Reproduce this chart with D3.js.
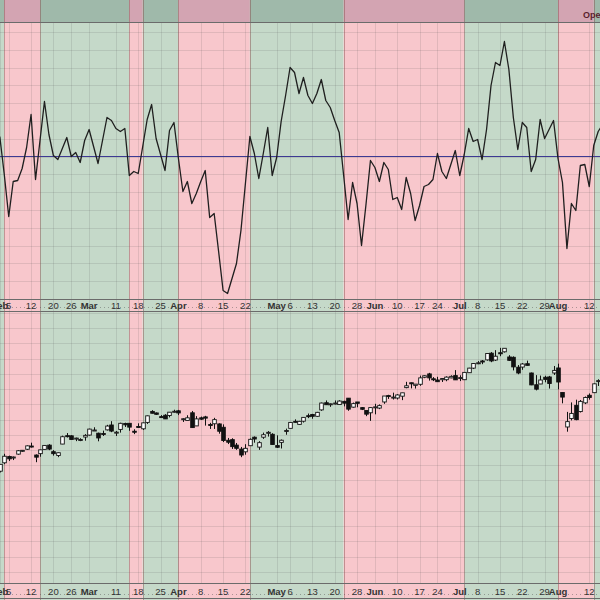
<!DOCTYPE html>
<html><head><meta charset="utf-8">
<script src="https://cdn.jsdelivr.net/npm/d3@7"></script>
<style>html,body{margin:0;padding:0;background:#fff;}svg{display:block;}</style>
</head><body><div id="chart"></div>
<script>
// ---- DATA ----
const tradingDays = ["02-01","02-02","02-05","02-06","02-07","02-08","02-09","02-12","02-13","02-14","02-15","02-16","02-20","02-21","02-22","02-23","02-26","02-27","02-28","02-29",
"03-01","03-04","03-05","03-06","03-07","03-08","03-11","03-12","03-13","03-14","03-15","03-18","03-19","03-20","03-21","03-22","03-25","03-26","03-27","03-28",
"04-01","04-02","04-03","04-04","04-05","04-08","04-09","04-10","04-11","04-12","04-15","04-16","04-17","04-18","04-19","04-22","04-23","04-24","04-25","04-26","04-29","04-30",
"05-01","05-02","05-03","05-06","05-07","05-08","05-09","05-10","05-13","05-14","05-15","05-16","05-17","05-20","05-21","05-22","05-23","05-24","05-28","05-29","05-30","05-31",
"06-03","06-04","06-05","06-06","06-07","06-10","06-11","06-12","06-13","06-14","06-17","06-18","06-20","06-21","06-24","06-25","06-26","06-27","06-28",
"07-01","07-02","07-03","07-05","07-08","07-09","07-10","07-11","07-12","07-15","07-16","07-17","07-18","07-19","07-22","07-23","07-24","07-25","07-26","07-29","07-30","07-31",
"08-01","08-02","08-05","08-06","08-07","08-08","08-09","08-12","08-13","08-14","08-15"];

const openP = [4861,4916,4957,4950,4973,4996,5005,5026,4967,4976,5004,5032,4989,4964,5039,5094,5093,5074,5067,5085,
5098,5131,5110,5108,5132,5164,5112,5135,5174,5175,5123,5154,5139,5181,5253,5243,5219,5228,5226,5248,
5257,5204,5194,5244,5158,5211,5217,5167,5172,5171,5149,5064,5068,5032,5006,4988,5028,5084,5019,5084,5114,5103,
5029,5050,5122,5142,5188,5168,5189,5225,5233,5221,5263,5310,5303,5305,5298,5319,5340,5281,5315,5278,5259,5244,
5283,5275,5315,5357,5344,5341,5353,5409,5441,5424,5431,5477,5499,5467,5459,5461,5461,5473,5488,
5471,5461,5507,5537,5572,5584,5591,5635,5590,5638,5644,5610,5608,5543,5544,5566,5505,5428,5433,5477,5479,5505,
5538,5377,5151,5206,5293,5252,5309,5359,5376,5450,5501];
const highP = [4906,4975,4963,4957,5000,5000,5030,5048,4971,5002,5032,5038,4999,4983,5094,5111,5097,5081,5077,5104,
5140,5149,5114,5127,5165,5189,5125,5179,5179,5176,5136,5175,5180,5226,5261,5246,5229,5235,5249,5264,
5263,5209,5228,5256,5222,5219,5224,5178,5211,5175,5168,5079,5077,5046,5020,5038,5076,5089,5058,5114,5124,5110,
5096,5069,5140,5181,5201,5191,5215,5239,5237,5250,5311,5325,5305,5325,5326,5323,5341,5311,5315,5282,5260,5280,
5303,5299,5354,5362,5376,5366,5375,5447,5442,5432,5488,5490,5506,5478,5480,5472,5483,5490,5524,
5490,5510,5539,5570,5583,5590,5635,5642,5655,5670,5667,5622,5614,5557,5570,5586,5508,5491,5488,5487,5486,5551,
5566,5377,5250,5312,5330,5328,5351,5371,5436,5464,5546];
const lowP = [4853,4907,4928,4934,4969,4987,5000,5016,4920,4956,5003,4999,4963,4953,5038,5082,5068,5058,5058,5061,
5094,5127,5057,5092,5128,5117,5092,5114,5151,5126,5104,5145,5131,5171,5240,5230,5216,5203,5214,5246,
5229,5184,5194,5146,5157,5197,5160,5138,5138,5107,5052,5039,5007,5001,4953,4969,5027,5048,5001,5073,5088,5035,
5013,5010,5100,5142,5180,5165,5180,5209,5205,5218,5257,5296,5283,5299,5297,5286,5257,5278,5280,5262,5222,5191,
5234,5268,5303,5335,5331,5331,5327,5405,5404,5403,5421,5471,5455,5452,5447,5446,5451,5471,5460,
5452,5459,5507,5531,5563,5563,5586,5576,5584,5615,5639,5584,5522,5497,5526,5553,5425,5391,5432,5444,5403,5492,
5398,5306,5120,5194,5195,5246,5301,5330,5376,5420,5501];
const closeP = [4906,4959,4942,4954,4995,4998,5027,5021,4953,5001,5030,5006,4976,4982,5087,5089,5069,5078,5069,5096,
5137,5131,5079,5105,5157,5124,5117,5175,5165,5150,5117,5149,5178,5224,5241,5234,5218,5204,5248,5254,
5243,5205,5211,5147,5204,5202,5209,5161,5199,5123,5062,5051,5022,5011,4967,5011,5070,5072,5048,5100,5116,5036,
5018,5064,5128,5181,5187,5188,5214,5223,5221,5247,5308,5297,5303,5308,5321,5307,5268,5304,5306,5267,5235,5278,
5283,5291,5354,5353,5347,5361,5375,5421,5434,5432,5473,5487,5473,5465,5448,5469,5478,5483,5460,
5475,5509,5537,5567,5572,5577,5633,5584,5615,5631,5667,5588,5545,5505,5564,5555,5427,5399,5459,5463,5436,5522,
5446,5347,5186,5240,5199,5319,5344,5344,5434,5455,5543];

// oscillator (zero line = 0)
const oscValues = [20,-18,-60,-25,-24,-12,9,42,-23,16,55,22,1,-3,8,19,0,4,-6,16,
27,10,-7,16,39,36,28,25,28,-19,-15,-17,10,37,52,18,2,-14,26,34,
-2,-35,-25,-47,-37,-25,-14,-61,-57,-95,-134,-137,-122,-107,-74,-27,20,3,-22,3,29,-19,
-1,35,61,89,84,63,79,61,53,63,77,56,49,36,24,-19,-63,-26,-47,-89,-48,-4,
-11,-25,-6,-13,-43,-41,-53,-21,-37,-64,-49,-30,-28,-23,3,-15,-22,-8,6,
-19,2,28,15,17,-3,27,71,94,91,115,87,39,7,34,29,-15,-3,37,18,27,36,
-2,-26,-92,-47,-54,-9,-8,-30,11,25,32];

const regimeStart = ["02-01","02-02","02-14","03-14","03-19","04-01","04-23","05-22","07-02","08-01","08-13"];
const regimeType  = ["up","down","up","down","up","down","up","down","up","down","up"];

const tickDates  = ["02-01","02-05","02-12","02-20","02-26","03-01","03-11","03-18","03-25","04-01","04-08","04-15","04-22","05-01","05-06","05-13","05-20","05-28","06-03","06-10","06-17","06-24","07-01","07-08","07-15","07-22","07-29","08-01","08-12"];
const tickLabels = ["Feb","5","12","20","26","Mar","11","18","25","Apr","8","15","22","May","6","13","20","28","Jun","10","17","24","Jul","8","15","22","29","Aug","12"];

// ---- DRAW ----
const W = 600, H = 600;
const svg = d3.select("#chart").append("svg").attr("width", W).attr("height", H)
  .style("font-family","'Liberation Sans', Arial, sans-serif");

const idx = d => tradingDays.indexOf(d);
const x = d3.scaleLinear().domain([2, 132]).range([8.74, 589.26]);

const hdrP = [0, 22], topP = [22, 299], ax1P = [299, 311], botP = [311, 583], ax2P = [583, 598];

const yOsc = d3.scaleLinear().domain([0, 100]).range([156.5, 56.5]);
const yP = d3.scaleLinear().domain([5667, 5120]).range([348.3, 431.7]);

const colors = {
  up:   {main:"#c5d9c9", head:"#9fb9aa"},
  down: {main:"#f8c7cc", head:"#d3a4b2"}
};

// bands
const bands = regimeStart.map((s,i)=>({
  x0: i===0 ? 0 : x(idx(s)),
  x1: i===regimeStart.length-1 ? W : x(idx(regimeStart[i+1])),
  t: regimeType[i]
}));
const gB = svg.append("g");
gB.selectAll("rect.m").data(bands).join("rect").attr("class","m")
  .attr("x",d=>d.x0).attr("width",d=>d.x1-d.x0).attr("y",0).attr("height",H)
  .attr("fill",d=>colors[d.t].main);
gB.selectAll("rect.h").data(bands).join("rect").attr("class","h")
  .attr("x",d=>d.x0).attr("width",d=>d.x1-d.x0).attr("y",hdrP[0]).attr("height",hdrP[1]-hdrP[0])
  .attr("fill",d=>colors[d.t].head);

// grid: horizontal
const gG = svg.append("g").attr("stroke","rgba(90,90,90,0.15)").attr("stroke-width",1);
const oscStep = 17.8;
d3.range(-8, 9).map(k=>k*oscStep).forEach(v=>{
  const yy = Math.round(yOsc(v))+0.5;
  if (yy>topP[0]+2 && yy<topP[1]-1) gG.append("line").attr("x1",0).attr("x2",W).attr("y1",yy).attr("y2",yy);
});
d3.range(4200, 6000, 100).forEach(p=>{
  const yy = Math.round(yP(p))+0.5;
  if (yy>botP[0]+2 && yy<botP[1]-1) gG.append("line").attr("x1",0).attr("x2",W).attr("y1",yy).attr("y2",yy);
});
// grid: vertical at ticks
tickDates.forEach(d=>{
  const xx = Math.round(x(idx(d)))+0.5;
  gG.append("line").attr("x1",xx).attr("x2",xx).attr("y1",topP[0]).attr("y2",botP[1]);
});

// band boundary lines
svg.append("g").selectAll("line").data(bands.slice(1)).join("line")
  .attr("x1",d=>Math.round(d.x0)+0.5).attr("x2",d=>Math.round(d.x0)+0.5)
  .attr("y1",0).attr("y2",H).attr("stroke","rgba(130,70,70,0.45)").attr("stroke-width",1);

// separators
const sep = svg.append("g").attr("stroke","#6b6b6b").attr("stroke-width",1);
[hdrP[1], ax1P[0], ax1P[1], ax2P[0], ax2P[1]].forEach(v=>{
  sep.append("line").attr("x1",0).attr("x2",W).attr("y1",v+0.5).attr("y2",v+0.5);
});
// dotted tick rows in axis strips
[307.5, 594.5].forEach(v=>{
  svg.append("line").attr("x1",0).attr("x2",W).attr("y1",v).attr("y2",v)
    .attr("stroke","rgba(80,80,80,0.45)").attr("stroke-dasharray","1,3");
});

// axis labels
function axisLabels(yBase){
  const g = svg.append("g");
  g.selectAll("text").data(tickDates).join("text")
    .attr("x",d=>x(idx(d))).attr("y",yBase).attr("text-anchor","middle")
    .attr("font-size",9.5).attr("fill","#333")
    .attr("font-weight",(d,i)=>isNaN(+tickLabels[i])?"bold":"normal")
    .text((d,i)=>tickLabels[i]);
}
axisLabels(308.5);
axisLabels(595);

// header legend text
svg.append("text").attr("x",583).attr("y",18).attr("font-size",9).attr("font-weight","bold")
  .attr("fill","#5a1f2e").text("Open");

// zero line
svg.append("line").attr("x1",0).attr("x2",W).attr("y1",yOsc(0)).attr("y2",yOsc(0))
  .attr("stroke","#3d3a93").attr("stroke-width",1);

// oscillator line
const line = d3.line().x((d,i)=>x(i)).y(d=>yOsc(d));
svg.append("path").datum(oscValues).attr("d",line)
  .attr("fill","none").attr("stroke","#1f1f1f").attr("stroke-width",1.3).attr("stroke-linejoin","round");

// candles
const candles = tradingDays.map((d,i)=>({i,o:openP[i],h:highP[i],l:lowP[i],c:closeP[i]}));
const gC = svg.append("g");
const bw = 3.6;
gC.selectAll("line").data(candles).join("line")
  .attr("x1",d=>Math.round(x(d.i))+0.5).attr("x2",d=>Math.round(x(d.i))+0.5)
  .attr("y1",d=>yP(d.h)).attr("y2",d=>yP(d.l)).attr("stroke","#111").attr("stroke-width",1);
gC.selectAll("rect").data(candles).join("rect")
  .attr("x",d=>Math.round(x(d.i))+0.5-bw/2).attr("width",bw)
  .attr("y",d=>yP(Math.max(d.o,d.c))).attr("height",d=>Math.max(1,Math.abs(yP(d.o)-yP(d.c))))
  .attr("fill",d=>d.c>=d.o?"#fff":"#111").attr("stroke","#111").attr("stroke-width",0.9);
</script></body></html>
